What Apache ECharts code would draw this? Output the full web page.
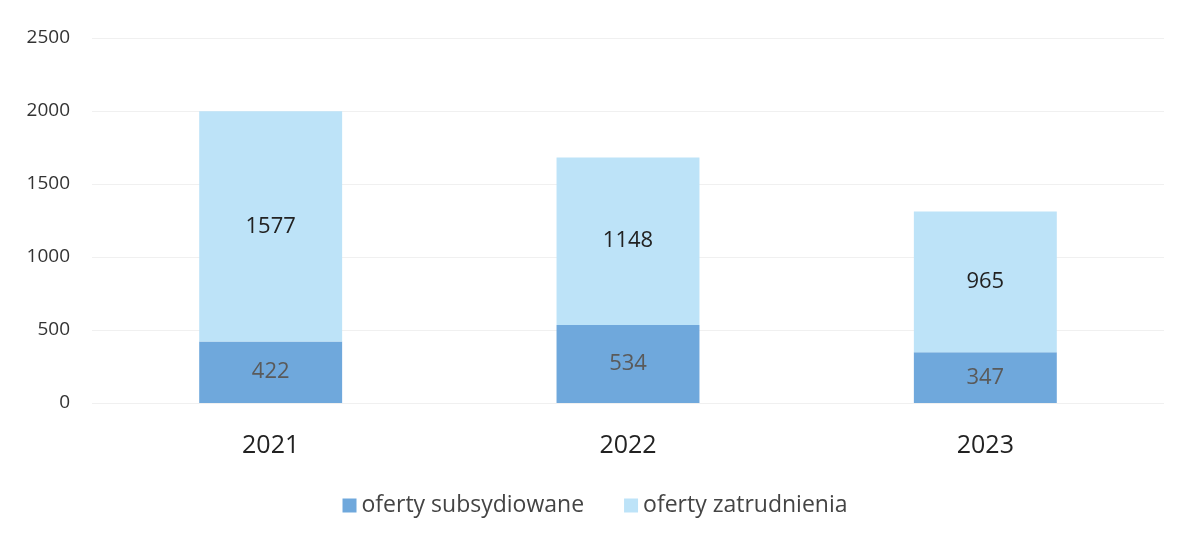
<!DOCTYPE html>
<html>
<head>
<meta charset="utf-8">
<script src="https://cdn.jsdelivr.net/npm/echarts@6/dist/echarts.min.js"></script>
<style>
  html, body { margin: 0; padding: 0; background: #fff; }
  #main { width: 1190px; height: 544px; }
</style>
</head>
<body>
<div id="main"></div>
<script>
var years = ['2021', '2022', '2023'];
var subsydiowane = [422, 534, 347];
var zatrudnienia = [1577, 1148, 965];
var yTicks = [0, 500, 1000, 1500, 2000, 2500];

var myChart = echarts.init(document.getElementById('main'));

var option = {
    backgroundColor: '#fff',
    textStyle: { fontFamily: 'Open Sans' },
    grid: { left: 92, right: 26, top: 38, bottom: 141 },
    legend: {
        bottom: 22,
        left: 'center',
        itemWidth: 14,
        itemHeight: 14,
        itemGap: 40,
        itemStyle: { borderWidth: 0 },
        icon: 'rect',
        textStyle: { fontSize: 23, color: '#444', fontFamily: 'Open Sans' },
        data: ['oferty subsydiowane', 'oferty zatrudnienia']
    },
    xAxis: {
        type: 'category',
        data: years,
        axisLine: { show: false },
        axisTick: { show: false },
        axisLabel: { fontSize: 25, color: '#222', margin: 30 }
    },
    yAxis: {
        type: 'value',
        min: yTicks[0],
        max: yTicks[yTicks.length - 1],
        interval: 500,
        axisLabel: {
            fontSize: 19, color: '#333', margin: 22,
            formatter: function (v) { return String(v); }
        },
        splitLine: { lineStyle: { color: '#f0f0f0', width: 1 } }
    },
    series: [
        {
            name: 'oferty subsydiowane',
            type: 'bar',
            stack: 'total',
            barWidth: '40%',
            data: subsydiowane,
            itemStyle: { color: '#6fa8dc' },
            label: { show: true, position: 'inside', fontSize: 22, color: '#5a5a5a' }
        },
        {
            name: 'oferty zatrudnienia',
            type: 'bar',
            stack: 'total',
            data: zatrudnienia,
            itemStyle: { color: '#bde3f8' },
            label: { show: true, position: 'inside', fontSize: 22, color: '#222' }
        }
    ]
};

myChart.setOption(option);
</script>
</body>
</html>
